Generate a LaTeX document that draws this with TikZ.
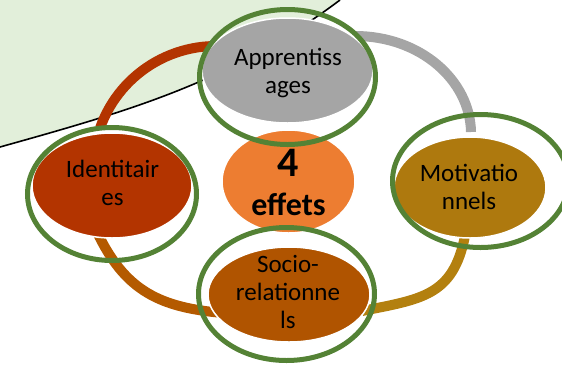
\documentclass[tikz,border=0pt]{standalone}
\usepackage{fontspec}
\setmainfont{Carlito}
\usetikzlibrary{shapes.geometric}
\definecolor{bgGreen}{HTML}{E2EFDA}
\definecolor{ringGreen}{HTML}{548235}
\definecolor{appGrey}{HTML}{A5A5A5}
\definecolor{ideRed}{HTML}{B33400}
\definecolor{socBrown}{HTML}{B05400}
\definecolor{socBand}{HTML}{B45A00}
\definecolor{motGold}{HTML}{AE790E}
\definecolor{motBand}{HTML}{B3800F}
\definecolor{effOrange}{HTML}{ED7D31}
\tikzset{
  fillE/.style={ellipse, draw=white, line width=1.5pt, inner sep=0pt, outer sep=0pt},
  ringE/.style={ellipse, draw=ringGreen, line width=5pt, inner sep=0pt, outer sep=0pt},
  band/.style={line width=10pt, line cap=butt},
  lbl/.style={align=center, inner sep=0pt, font=\fontsize{25}{28}\selectfont}
}
\begin{document}
\begin{tikzpicture}[x=1pt,y=-1pt]
\useasboundingbox (0,0) rectangle (562,365);
\clip (0,0) rectangle (562,365);
% background
\coordinate (bgL) at (0,147);
\coordinate (bgR) at (340,0);
\fill[bgGreen] (0,0) -- (bgL) .. controls (130,110.6) and (230,82.5) .. (bgR) -- cycle;
\draw[line width=1.6pt] (bgL) .. controls (130,110.6) and (230,82.5) .. (bgR);
% band ends
\coordinate (rA) at (100.1,127.9);
\coordinate (rB) at (241.6,48.7);
\coordinate (gA) at (355,36);
\coordinate (gB) at (471,132);
\coordinate (bA) at (97,232);
\coordinate (bB) at (218,312.5);
\coordinate (mA) at (465,236);
\coordinate (mB) at (362,311);
\draw[band, ideRed] (rA) .. controls (120.7,69.8) and (181.3,35.9) .. (rB);
\draw[band, appGrey] (gA) .. controls (420,36) and (470,80) .. (gB);
\draw[band, socBand] (bA) .. controls (123.7,287.8) and (156,306.5) .. (bB);
\draw[band, motBand] (mA) .. controls (453,296) and (422,299) .. (mB);
% fills
\node[fillE, fill=effOrange, minimum width=133pt, minimum height=103pt] (eff) at (288.5,181.5) {};
\node[fillE, fill=appGrey, minimum width=171pt, minimum height=105pt] (app) at (287.5,70.5) {};
\node[fillE, fill=ideRed, minimum width=160pt, minimum height=105pt] (ide) at (112,185.5) {};
\node[fillE, fill=motGold, minimum width=152pt, minimum height=101pt] (mot) at (470,187.5) {};
\node[fillE, fill=socBrown, minimum width=162pt, minimum height=95pt] (soc) at (289,294.5) {};
% rings
\node[ringE, minimum width=176pt, minimum height=135pt] (appR) at (287.5,77) {};
\node[ringE, minimum width=169pt, minimum height=133pt] (ideR) at (112,194) {};
\node[ringE, minimum width=176pt, minimum height=133pt] (motR) at (480.5,181) {};
\node[ringE, minimum width=176pt, minimum height=133pt] (socR) at (286.5,294) {};
% labels
\node[lbl] (appT) at (288,73.4) {Apprentiss\\ages};
\node[lbl] (ideT) at (112.5,183) {Identitair\\es};
\node[lbl] (motT) at (469,187.4) {Motivatio\\nnels};
\node[lbl] (socT) at (288,292.4) {Socio-\\relationne\\ls};
\node[inner sep=0pt] (effT) at (288.5,182.3) {\parbox{120pt}{\centering\bfseries\fontsize{42}{42}\selectfont 4\par\fontsize{32}{39}\selectfont effets\par}};
\end{tikzpicture}
\end{document}
